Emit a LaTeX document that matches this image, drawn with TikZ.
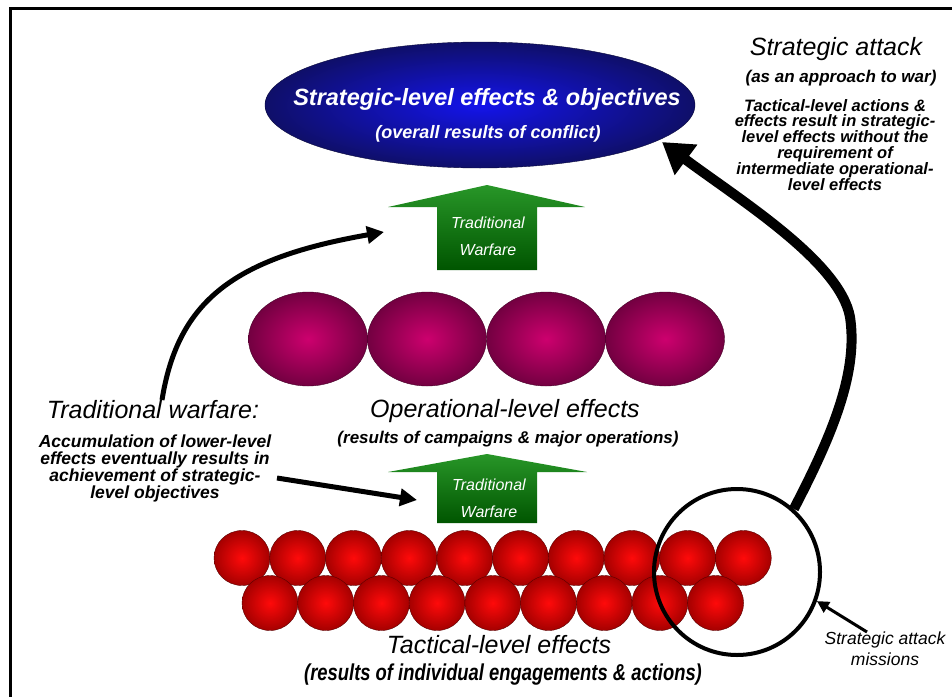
\documentclass[tikz,border=0pt]{standalone}
\usepackage{fontspec}
\setmainfont{Liberation Sans}
\newfontfamily\narrowfont[FakeStretch=0.8]{Liberation Sans}
\usetikzlibrary{arrows.meta,shapes.geometric}
\definecolor{bluein}{RGB}{20,20,235}
\definecolor{blueout}{RGB}{15,15,105}
\definecolor{blueline}{RGB}{10,10,60}
\definecolor{purin}{RGB}{205,0,110}
\definecolor{purout}{RGB}{115,0,65}
\definecolor{purline}{RGB}{70,0,40}
\definecolor{redin}{RGB}{255,10,10}
\definecolor{redout}{RGB}{165,0,0}
\definecolor{redline}{RGB}{90,0,0}
\definecolor{grtop}{RGB}{40,150,40}
\definecolor{grbot}{RGB}{0,85,0}
\tikzset{
  heading/.style={anchor=base, inner sep=0pt, font=\fontsize{25}{30}\selectfont\itshape},
  subline/.style={anchor=base, inner sep=0pt, font=\fontsize{17}{20}\selectfont\bfseries\itshape},
  para/.style={anchor=north, inner sep=0pt, align=center},
  twtext/.style={anchor=base, inner sep=0pt, text=white, font=\fontsize{16}{19}\selectfont\itshape},
  opcirc/.style={ellipse, minimum width=119pt, minimum height=94pt, inner sep=0pt,
    draw=purline, inner color=purin, outer color=purout},
  tccirc/.style={ellipse, minimum width=56pt, minimum height=55pt, inner sep=0pt,
    draw=redline, inner color=redin, outer color=redout},
  greenarrow/.style={top color=grtop, bottom color=grbot},
  bigarrow/.style={line width=10pt, -{Triangle[length=30pt,width=36pt]}},
  midarrow/.style={line width=5pt, -{Triangle[length=17pt,width=17pt]}},
  smallarrow/.style={line width=3pt, -{Triangle[length=12pt,width=12pt]}}
}
\begin{document}
\begin{tikzpicture}[x=1pt,y=-1pt]
\useasboundingbox (0,0) rectangle (952,696);
\fill[white] (0,0) rectangle (952,696);
% frame
\draw[line width=3pt] (10.5,700) -- (10.5,8.5) -- (960,8.5);

% strategic ellipse
\node[ellipse, minimum width=430pt, minimum height=126pt, inner sep=0pt,
  draw=blueline, inner color=bluein, outer color=blueout] (strat) at (480,105) {};
\node[anchor=base, inner sep=0pt, text=white, font=\fontsize{23.5}{28}\selectfont\bfseries\itshape]
  (stitle) at (487,105) {Strategic-level effects \& objectives};
\node[anchor=base, inner sep=0pt, text=white, font=\fontsize{18}{22}\selectfont\bfseries\itshape]
  (ssub) at (488,138) {(overall results of conflict)};

% green arrows
\shade[greenarrow] (437,270) -- (437,207) -- (388,207) -- (487,185) -- (585,207) -- (537,207) -- (537,270) -- cycle;
\node[twtext] (tw1a) at (488,228) {Traditional};
\node[twtext] (tw1b) at (488,255) {Warfare};
\shade[greenarrow] (437,523) -- (437,472) -- (388,472) -- (487,454) -- (587,472) -- (537,472) -- (537,523) -- cycle;
\node[twtext] (tw2a) at (489,490) {Traditional};
\node[twtext] (tw2b) at (489,517) {Warfare};

% operational circles
\foreach \i/\x in {1/308,2/427,3/546,4/665}
  \node[opcirc] (op\i) at (\x,339) {};
\node[heading] (oph) at (505,417) {Operational-level effects};
\node[subline] (opsub) at (508,443) {(results of campaigns \& major operations)};

% tactical circles
\foreach \k in {0,...,9}
  \node[tccirc] (ta\k) at ({242+55.7*\k},558) {};
\foreach \k in {0,...,8}
  \node[tccirc] (tb\k) at ({270+55.7*\k},603) {};
\node[heading] (tch) at (499,653) {Tactical-level effects};
\node[anchor=base, inner sep=0pt, font=\narrowfont\fontsize{23}{27}\selectfont\bfseries\itshape]
  (tcsub) at (503,680) {(results of individual engagements \& actions)};

% strategic attack missions circle
\node[circle, draw, line width=4pt, minimum size=166pt, inner sep=0pt] (sam) at (737,572) {};
\node[para, font=\fontsize{17.5}{20.5}\selectfont\itshape] (samtext) at (885,632)
  {Strategic attack\\missions};

% right text block
\node[heading] (sah) at (836,55) {Strategic attack};
\node[subline] (sasub) at (841,82) {(as an approach to war)};
\node[para, font=\fontsize{16.5}{15.3}\selectfont\bfseries\itshape] (satext) at (835,99)
  {Tactical-level actions \&\\effects result in strategic-\\level effects without the\\requirement of\\intermediate operational-\\level effects};

% left text block
\node[heading] (twh) at (153,418) {Traditional warfare:};
\node[para, font=\fontsize{17.5}{16.3}\selectfont\bfseries\itshape] (twp) at (155,435)
  {Accumulation of lower-level\\effects eventually results in\\achievement of strategic-\\level objectives};

% connectors
\coordinate (tipS) at (662,142);
\draw[bigarrow] (sam.48) .. controls (835,430) and (858,370) .. (850,317)
  .. controls (840,262) and (740,200) .. (tipS);
\coordinate (twstart) at (162,400);
\coordinate (twtip) at (384,232);
\draw[midarrow] (twstart) .. controls (178,300) and (235,258) .. (twtip);
\coordinate (accstart) at (277,478);
\coordinate (acctip) at (417,500);
\draw[midarrow] (accstart) -- (acctip);
\coordinate (smstart) at (867,632);
\draw[smallarrow] (smstart) -- (sam.-20);
\end{tikzpicture}
\end{document}
